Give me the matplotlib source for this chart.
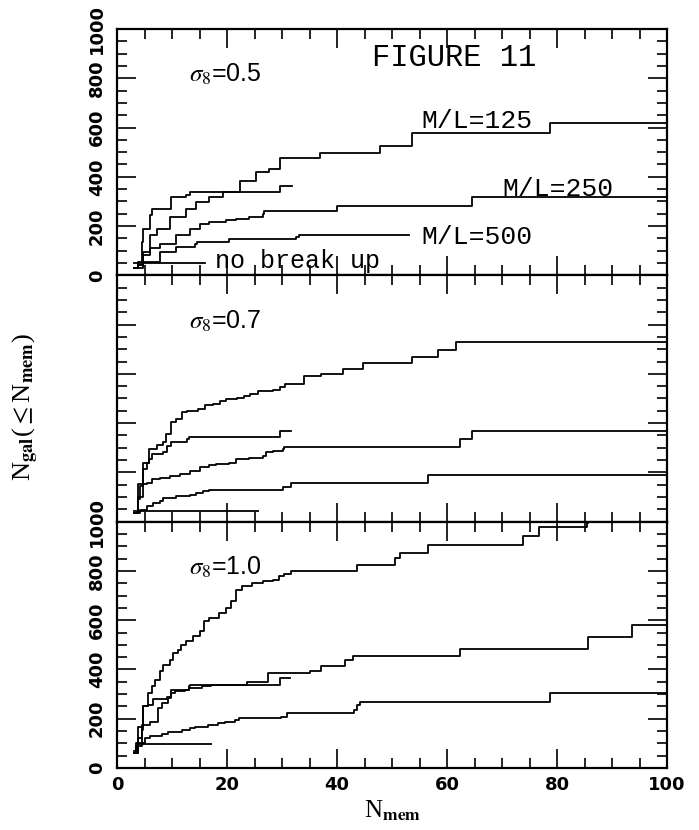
import matplotlib
matplotlib.use('Agg')
import matplotlib.pyplot as plt
from matplotlib.ticker import MultipleLocator

plt.rcParams['mathtext.fontset'] = 'stix'

# sigma8 = 0.5
a_125_x = [3, 3.9, 4.8, 6.0, 7.2, 9.6, 12.6, 14.4, 16.8, 19.3, 22.3, 25.3, 27.7, 29.6, 36.9, 47.8, 53.6, 78.7, 100]
a_125_y = [30, 42, 96, 162, 189, 236, 270, 297, 317, 337, 384, 418, 431, 478, 498, 525, 576, 619, 619]
a_short_x = [3, 3.9, 4.5, 4.8, 6.0, 6.3, 9.9, 12.6, 13.3, 29.6, 31.8]
a_short_y = [30, 55, 136, 189, 243, 270, 317, 327, 337, 364, 364]
a_250_x = [3, 3.9, 4.8, 6.0, 7.8, 10.8, 13.2, 15.0, 16.8, 19.8, 21.6, 24.0, 26.5, 26.8, 40.0, 64.5, 100]
a_250_y = [30, 42, 82, 109, 129, 162, 189, 210, 216, 223, 230, 236, 250, 263, 283, 317, 317]
a_500_x = [3, 4.8, 7.8, 10.8, 14.2, 14.5, 20.4, 32.5, 33.1, 53.0]
a_500_y = [30, 55, 95, 116, 129, 136, 149, 156, 165, 165]
a_nb_x = [3, 16]
a_nb_y = [52, 52]

# sigma8 = 0.7
b_125_x = [3.1, 3.9, 4.8, 5.9, 7.2, 8.4, 8.9, 9.9, 10.8, 11.8, 12.7, 14.8, 16.0, 17.5, 18.7, 19.9, 21.8, 23.0,
           24.2, 25.7, 28.4, 29.6, 30.5, 33.9, 37.0, 41.0, 44.8, 53.6, 58.4, 61.6, 100]
b_125_y = [36, 151, 240, 294, 311, 324, 356, 404, 417, 445, 451, 458, 472, 479, 488, 496, 502, 512,
           519, 529, 533, 547, 560, 590, 600, 620, 645, 670, 697, 731, 731]
b_short_x = [3.1, 3.9, 4.2, 4.8, 5.4, 5.9, 6.3, 8.4, 9.0, 9.9, 12.7, 13.0, 29.6, 31.7]
b_short_y = [36, 90, 144, 213, 240, 254, 274, 283, 308, 322, 335, 345, 368, 368]
b_250_x = [3.1, 3.9, 4.8, 5.4, 6.3, 7.8, 9.6, 11.4, 13.2, 15.0, 16.8, 18.0, 20.4, 21.6, 24.0, 26.5, 27.1,
           28.3, 30.1, 30.4, 62.4, 64.5, 100]
b_250_y = [36, 100, 151, 158, 172, 179, 185, 192, 206, 220, 229, 233, 240, 254, 260, 267, 281,
           288, 294, 304, 335, 368, 368]
b_500_x = [3.1, 4.2, 5.4, 6.6, 7.8, 8.4, 10.8, 13.2, 14.4, 15.6, 16.8, 30.1, 31.6, 56.6, 100]
b_500_y = [36, 49, 63, 76, 83, 97, 103, 110, 117, 124, 128, 140, 158, 189, 189]
b_nb_x = [3.1, 25.7]
b_nb_y = [42, 42]

# sigma8 = 1.0
c_125_x = [3.1, 3.9, 4.8, 5.7, 6.3, 6.9, 7.8, 8.4, 9.6, 10.2, 11.1, 11.7, 12.6, 13.8, 15.0, 15.9, 16.8, 18.6,
           19.8, 20.7, 21.6, 22.8, 24.6, 26.5, 28.3, 29.5, 30.4, 31.6, 43.6, 50.5, 51.5, 56.6, 73.8, 76.8,
           85.4, 85.6]
c_125_y = [60, 168, 250, 304, 331, 358, 392, 419, 440, 467, 480, 501, 514, 534, 555, 595, 609, 630,
           650, 677, 724, 738, 752, 758, 765, 779, 786, 799, 824, 853, 871, 904, 941, 978,
           995, 995]
c_short_x = [3.1, 3.9, 4.5, 4.8, 5.7, 6.6, 9.0, 9.9, 13.0, 13.3, 29.6, 31.5]
c_short_y = [60, 120, 175, 250, 256, 280, 290, 317, 331, 338, 365, 365]
c_250_x = [3.1, 3.5, 4.6, 4.8, 6.0, 7.5, 8.1, 9.3, 9.9, 10.5, 12.4, 13.0, 15.4, 17.0, 23.6, 27.5, 35.0,
           37.0, 41.5, 42.9, 62.4, 85.7, 93.7, 100]
c_250_y = [60, 90, 155, 175, 188, 243, 263, 284, 304, 311, 315, 324, 331, 338, 351, 385, 392,
           415, 440, 456, 484, 530, 579, 579]
c_500_x = [3.1, 3.5, 5.1, 6.0, 8.1, 9.3, 11.8, 13.3, 14.2, 16.6, 18.4, 19.6, 21.5, 22.1, 29.9, 30.9,
           43.0, 43.6, 44.2, 78.7, 100]
c_500_y = [60, 100, 121, 130, 138, 148, 155, 162, 168, 175, 182, 188, 195, 202, 206, 223,
           236, 256, 266, 306, 306]
c_nb_x = [3.1, 3.8, 17.1]
c_nb_y = [70, 98, 98]

panels = [
    ('0.5', [(a_125_x, a_125_y), (a_short_x, a_short_y), (a_250_x, a_250_y), (a_500_x, a_500_y), (a_nb_x, a_nb_y)]),
    ('0.7', [(b_125_x, b_125_y), (b_short_x, b_short_y), (b_250_x, b_250_y), (b_500_x, b_500_y), (b_nb_x, b_nb_y)]),
    ('1.0', [(c_125_x, c_125_y), (c_short_x, c_short_y), (c_250_x, c_250_y), (c_500_x, c_500_y), (c_nb_x, c_nb_y)]),
]

fig = plt.figure(figsize=(6.99, 8.30), dpi=100)
left, width, h = 0.1674, 0.787, 0.2968
bottoms = [0.0747 + 2 * h, 0.0747 + h, 0.0747]

axes = []
for i, (sig, curves) in enumerate(panels):
    ax = fig.add_axes([left, bottoms[i], width, h])
    axes.append(ax)
    for x, y in curves:
        ax.step(x, y, where='post', color='black', lw=1.3)
    ax.set_xlim(0, 100)
    ax.set_ylim(0, 1000)
    ax.xaxis.set_major_locator(MultipleLocator(20))
    ax.xaxis.set_minor_locator(MultipleLocator(5))
    ax.yaxis.set_major_locator(MultipleLocator(200))
    ax.yaxis.set_minor_locator(MultipleLocator(50))
    ax.tick_params(which='both', direction='in', top=True, right=True, width=1.2)
    ax.tick_params(which='major', length=14)
    ax.tick_params(which='minor', length=7)
    ax.tick_params(axis='y', which='major', pad=8)
    ax.tick_params(axis='x', which='major', pad=6)
    for sp in ax.spines.values():
        sp.set_linewidth(1.6)
    for lab in ax.get_yticklabels():
        lab.set_rotation(90)
        lab.set_va('center')
        lab.set_fontweight('bold')
        lab.set_fontsize(13)
        lab.set_family('DejaVu Sans')
    for lab in ax.get_xticklabels():
        lab.set_fontweight('bold')
        lab.set_fontsize(13)
        lab.set_family('DejaVu Sans')
    if i < 2:
        ax.set_xticklabels([])
    if i == 1:
        ax.set_yticklabels([])
    ax.text(13, 815, r'$\sigma_8$=' + sig, fontsize=18, family='Liberation Sans', va='center', ha='left')

ax = axes[0]
ax.text(46.4, 883, 'FIGURE 11', fontsize=22, family='Liberation Mono', va='center', ha='left')
ax.text(55.3, 599, 'M/L=125', fontsize=19, family='Liberation Mono', va='baseline', ha='left')
ax.text(70.0, 322, 'M/L=250', fontsize=19, family='Liberation Mono', va='baseline', ha='left')
ax.text(55.4, 129, 'M/L=500', fontsize=19, family='Liberation Mono', va='baseline', ha='left')
ax.text(17.8, 28, 'no break up', fontsize=18, family='Liberation Mono', va='baseline', ha='left')

axes[2].set_xlabel(r'N$_{\mathbf{mem}}$', fontsize=18, family='Liberation Serif', labelpad=3)
fig.text(0.037, 0.51, r'N$_{\mathbf{gal}}$($\leq$N$_{\mathbf{mem}}$)', rotation=90, fontsize=19,
         family='Liberation Serif', ha='center', va='center')

plt.savefig('out.png', dpi=100)
